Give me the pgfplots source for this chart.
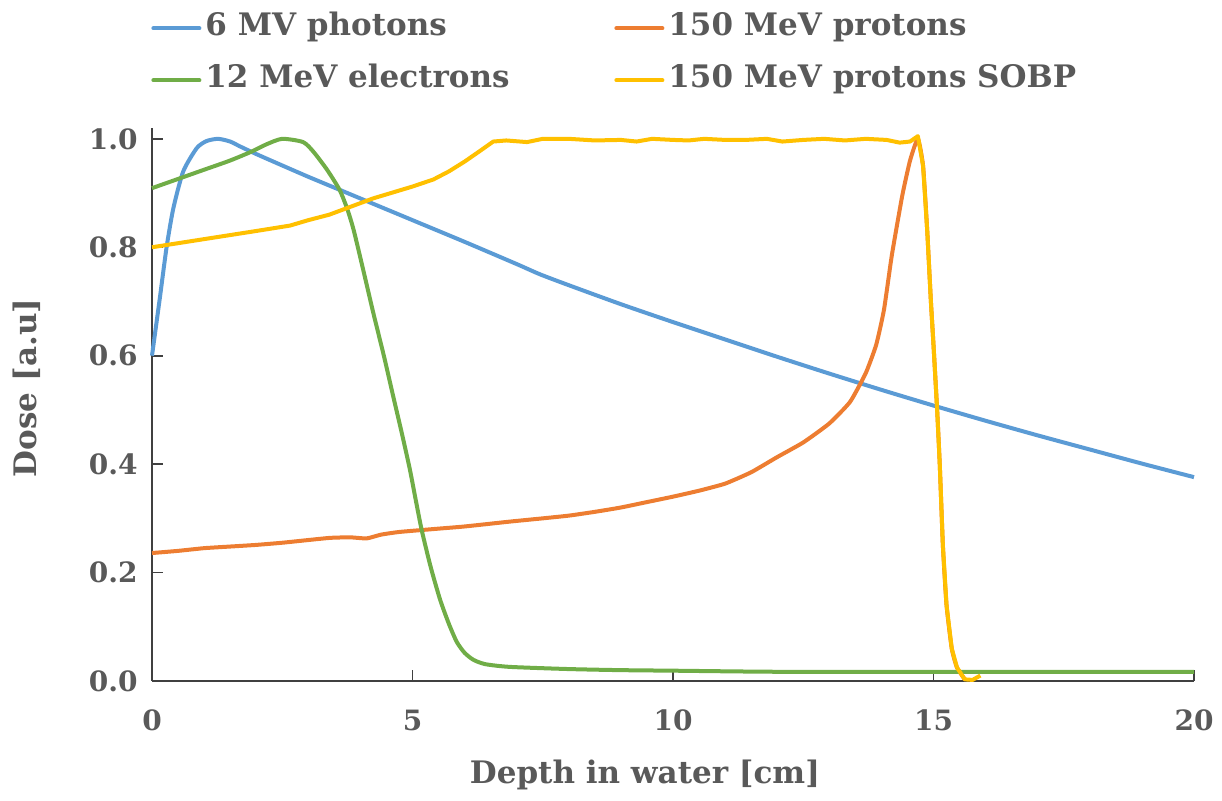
\documentclass[border=0pt]{standalone}
\usepackage{pgfplots}
\pgfplotsset{compat=1.18}
\usepackage{fontspec}
\setmainfont{DejaVu Serif}
\definecolor{cblue}{HTML}{5B9BD5}
\definecolor{corange}{HTML}{ED7D31}
\definecolor{cgreen}{HTML}{70AD47}
\definecolor{cyellow}{HTML}{FFC000}
\definecolor{txt}{HTML}{595959}
\begin{document}
\begin{tikzpicture}
\begin{axis}[
  scale only axis, width=521pt, height=276.5pt,
  xmin=0, xmax=20, ymin=0, ymax=1.02,
  clip=false,
  axis x line=bottom, axis y line=left,
  axis line style={-, line width=0.9pt, color=black!75},
  tick style={line width=0.9pt, color=black!75},
  tick align=inside, major tick length=5.5pt,
  xtick={0,5,10,15,20}, ytick={0,0.2,0.4,0.6,0.8,1.0},
  /pgf/number format/assume math mode=true,
  yticklabel style={/pgf/number format/fixed, /pgf/number format/fixed zerofill, /pgf/number format/precision=1},
  ticklabel style={font=\bfseries\fontsize{14}{16}\selectfont, text=txt},
  yticklabel style={anchor=east, inner sep=0pt, xshift=-7pt},
  xticklabel style={anchor=center, inner sep=0pt, yshift=-19.5pt},
  label style={font=\bfseries\fontsize{15.5}{18}\selectfont, text=txt},
  xlabel={Depth in water [cm]},
  ylabel={Dose [a.u]},
  xlabel style={at={(axis description cs:0.4731,-0.170)}, anchor=center},
  ylabel style={at={(axis description cs:-0.12,0.53)}, anchor=center},
  legend columns=2,
  legend cell align=left,
  legend style={draw=none, fill=none, inner sep=0pt,
    at={(axis description cs:0,1)}, anchor=north west, xshift=-0.5pt, yshift=59.5pt,
    font=\bfseries\fontsize{15.5}{18}\selectfont, text=txt,
    nodes={inner sep=2pt, text height=11pt, text depth=4pt},
    row sep=7pt},
  legend image code/.code={\draw[line width=2pt, line cap=round, #1] (0pt,0pt) -- (23pt,0pt);},
  every axis plot/.append style={line width=2pt, line join=round},
]
\addplot[cblue, smooth, tension=0.4] coordinates {
(0,0.6) (0.15,0.706) (0.28,0.8) (0.41,0.872) (0.6,0.94) (0.86,0.983) (1.05,0.996) (1.27,1.0) (1.5,0.995) (1.69,0.986) (2.0,0.972) (2.33,0.958) (3.0,0.93) (3.6,0.906) (4.0,0.89) (5.0,0.85) (6.0,0.81) (7.0,0.769) (7.45,0.75) (8,0.73) (9,0.695) (10,0.662) (11,0.63) (12,0.598) (13,0.567) (14,0.537) (15,0.508) (16,0.48) (17,0.453) (18,0.427) (19,0.401) (20,0.376)
};
\addlegendentry{\makebox[202.5pt][l]{6 MV photons}}
\addplot[corange, smooth, tension=0.3] coordinates {
(0,0.236) (0.5,0.24) (1,0.245) (1.5,0.248) (2,0.251) (2.5,0.255) (3,0.26) (3.42,0.264) (3.8,0.265) (4.12,0.263) (4.4,0.27) (4.76,0.275) (5.5,0.281) (6,0.285) (6.87,0.294) (7.5,0.3) (8,0.305) (8.5,0.312) (9,0.32) (9.5,0.33) (10,0.34) (10.5,0.351) (11,0.364) (11.5,0.385) (12,0.413) (12.5,0.44) (13,0.475) (13.4,0.515) (13.7,0.568) (13.9,0.62) (14.05,0.685) (14.2,0.785) (14.4,0.895) (14.55,0.96) (14.7,1.0) (14.8,0.95) (14.88,0.83) (14.95,0.7) (15.0,0.62) (15.07,0.50) (15.12,0.4) (15.18,0.25) (15.25,0.14) (15.35,0.06) (15.45,0.025) (15.6,0.003)
};
\addlegendentry{150 MeV protons}
\addplot[cgreen, smooth, tension=0.4] coordinates {
(0,0.909) (0.5,0.926) (1,0.943) (1.5,0.96) (1.9,0.976) (2.2,0.99) (2.5,1.0) (2.9,0.994) (3.1,0.976) (3.36,0.943) (3.6,0.906) (3.75,0.87) (3.87,0.832) (4.05,0.76) (4.25,0.678) (4.45,0.6) (4.63,0.525) (4.8,0.455) (4.95,0.39) (5.07,0.33) (5.18,0.277) (5.35,0.21) (5.53,0.15) (5.7,0.105) (5.85,0.072) (6.0,0.052) (6.17,0.039) (6.4,0.031) (6.87,0.026) (8,0.022) (9,0.02) (10,0.019) (12,0.017) (15,0.017) (20,0.017)
};
\addlegendentry{\makebox[202.5pt][l]{12 MeV electrons}}
\addplot[cyellow] coordinates {
(0,0.80) (1,0.815) (2,0.83) (2.65,0.84) (3.0,0.85) (3.4,0.86) (4.24,0.89) (5.0,0.912) (5.4,0.925) (5.7,0.94) (6.0,0.958) (6.3,0.978) (6.55,0.995) (6.8,0.997) (7.2,0.994) (7.5,1.0) (8.0,1.0) (8.5,0.997) (9,0.998) (9.3,0.995) (9.6,1.0) (10,0.998) (10.3,0.997) (10.6,1.0) (11,0.998) (11.4,0.998) (11.8,1.0) (12.1,0.995) (12.5,0.998) (12.9,1.0) (13.3,0.997) (13.7,1.0) (14.1,0.998) (14.35,0.993) (14.55,0.995) (14.7,1.005) (14.8,0.95) (14.88,0.83) (14.95,0.7) (15.0,0.62) (15.07,0.50) (15.12,0.4) (15.18,0.25) (15.25,0.14) (15.35,0.06) (15.45,0.025) (15.6,0.003) (15.75,0.002) (15.9,0.01)
};
\addlegendentry{150 MeV protons SOBP}
\coordinate (O) at (axis cs:0,0);
\end{axis}
\pgfresetboundingbox
\path[use as bounding box] ([shift={(-76pt,-60pt)}]O) rectangle ([shift={(535pt,340.5pt)}]O);
\end{tikzpicture}
\end{document}
